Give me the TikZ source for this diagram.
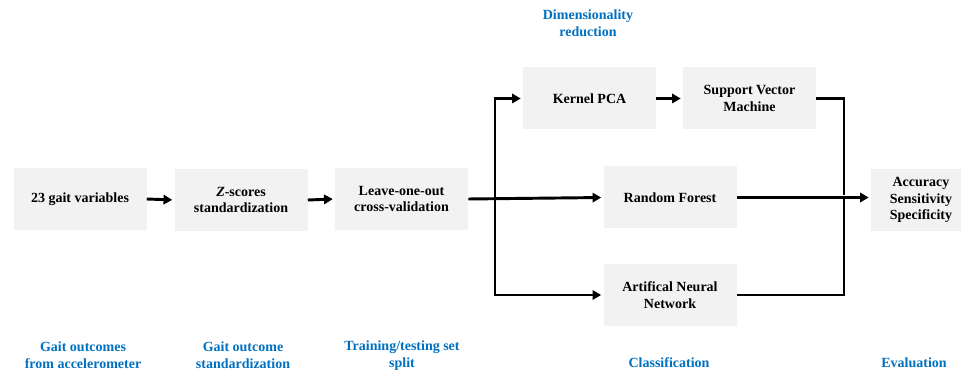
\documentclass[tikz,border=0pt]{standalone}
\usepackage{fontspec}
\setmainfont{Liberation Serif}
\usepackage{tikz}
\usetikzlibrary{positioning,arrows.meta}
\definecolor{labelblue}{RGB}{0,112,192}
\definecolor{boxgrey}{RGB}{242,242,242}

\begin{document}
\begin{tikzpicture}[x=0.75pt, y=-0.75pt, >={Triangle[length=6.5pt, width=7pt]},
greynode/.style={rectangle, fill=boxgrey, minimum width=99.75pt, minimum height=46.5pt, align=center, font=\fontsize{10.5}{12.5}\selectfont\bfseries},
bluelabel/.style={align=center, text=labelblue, font=\fontsize{10.5}{12.5}\selectfont\bfseries},
flow/.style={line width=2.2pt, shorten >=1.5pt},
]
\useasboundingbox (0,0) rectangle (961,374);
%Nodes
\node[greynode]      (gait)      at (80,199)      {23 gait variables};
\node[greynode]      (zscore)    at (241,200)     {\textit{Z}-scores\\standardization};
\node[greynode]      (loocv)     at (401.5,199)   {Leave-one-out\\cross-validation};
\node[greynode]      (kpca)      at (589.5,98.5)  {Kernel PCA};
\node[greynode]      (svm)       at (749.5,98.5)  {Support Vector\\Machine};
\node[greynode]      (rf)        at (670,197.5)   {Random Forest};
\node[greynode]      (ann)       at (670,295)     {Artifical Neural\\Network};
\node[greynode, minimum width=75pt]      (metrics)   at (921,200)     {Accuracy\\Sensitivity\\Specificity};

%Labels
\node[bluelabel]     (lblgait)   at (83,355.5)    {Gait outcomes\\from accelerometer};
\node[bluelabel]     (lblstd)    at (243,355.5)   {Gait outcome\\standardization};
\node[bluelabel]     (lblsplit)  at (402,355.5)   {Training/testing set\\split};
\node[bluelabel]     (lbldim)    at (588,23.5)    {Dimensionality\\reduction};
\node[bluelabel]     (lblclass)  at (669,363)     {Classification};
\node[bluelabel]     (lbleval)   at (914,363)     {Evaluation};

\coordinate (split) at (495,199);
\coordinate (merge) at (844,197.5);

%Lines
\draw[flow, ->] (gait.east) -- (zscore.west);
\draw[flow, ->] (zscore.east) -- (loocv.west);
\draw[flow, ->] (loocv.east) -- (rf.west);
\draw[flow, ->] (split) |- (kpca.west);
\draw[flow, ->] (split) |- (ann.west);
\draw[flow, ->] (kpca.east) -- (svm.west);
\draw[flow] (svm.east) -| (merge);
\draw[flow] (ann.east) -| (merge);
\draw[flow, ->] (rf.east) -- (rf.east -| metrics.west);
\end{tikzpicture}
\end{document}
